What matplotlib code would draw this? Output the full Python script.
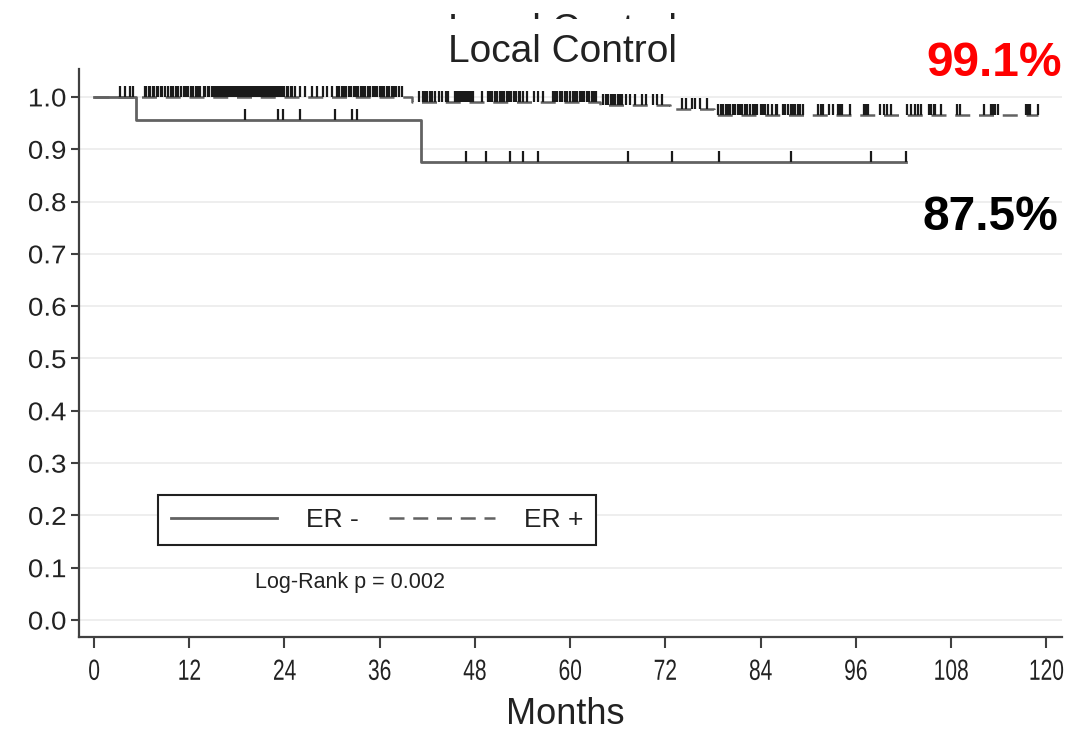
import numpy as np
import matplotlib.pyplot as plt
from matplotlib.lines import Line2D
from matplotlib.transforms import Bbox, TransformedBbox, Affine2D
from matplotlib.patheffects import AbstractPathEffect

plt.rcParams['font.family'] = ['Liberation Sans', 'DejaVu Sans']

# Kaplan-Meier local control by ER status (months)
neg_event_t = [5.3, 41.2]
neg_surv = [0.955, 0.875]
neg_censor = [19.0, 23.2, 23.8, 26.0, 30.4, 32.5, 33.1, 46.9, 49.4, 52.4,
              54.1, 55.9, 67.3, 72.9, 78.8, 87.9, 97.9, 102.3]

pos_event_t = [40.1, 63.8, 72.6, 78.1]
pos_surv = [0.991, 0.984, 0.977, 0.966]
pos_censor = [3.3, 3.9, 4.5, 4.9,
              6.4, 6.6, 6.9, 7.1, 7.4, 7.6, 7.9, 8.1, 8.4, 8.6,
              9.0, 9.3, 9.7, 10.0, 10.3, 10.6, 10.9, 11.3, 11.6, 11.9, 12.2, 12.5,
              12.8, 13.1, 13.4,
              13.8, 14.0, 14.3, 14.5, 14.8, 15.0, 15.3, 15.5, 15.8, 16.0, 16.3, 16.5,
              16.8, 17.0, 17.3, 17.5, 17.8, 18.0, 18.3, 18.5, 18.8, 19.0, 19.3, 19.5,
              19.8, 20.0, 20.3, 20.5, 20.8, 21.0, 21.3, 21.5, 21.8, 22.0, 22.3, 22.5,
              22.8, 23.0, 23.3, 23.5, 23.8, 24.0, 24.3, 24.5, 24.8, 25.0,
              25.3, 26.0, 26.6, 27.5, 28.1, 28.9, 29.4, 30.0,
              30.6, 30.9, 31.2, 31.5, 31.8, 32.1, 32.4, 32.7, 33.0, 33.3, 33.6, 33.9,
              34.2, 34.5, 34.8, 35.1, 35.4, 35.7, 36.0, 36.3, 36.6, 36.9, 37.2, 37.5,
              37.8, 38.1, 38.4, 38.8,
              40.9, 41.4, 41.7, 42.0, 42.3, 42.6, 43.0, 43.5, 43.9, 44.3, 44.6,
              45.5, 45.8, 46.0, 46.3, 46.5, 46.8, 47.0, 47.3, 47.5, 47.8, 48.9, 49.6,
              49.9, 50.2, 50.5, 50.8, 51.1, 51.4, 51.7, 52.0, 52.3, 52.6, 52.9, 53.2,
              53.5, 53.7, 54.1, 54.6, 55.4, 56.0, 56.6,
              57.8, 58.1, 58.4, 58.7, 59.0, 59.3, 59.6, 60.0, 60.3, 60.6, 60.9, 61.2,
              61.5, 61.8, 62.1, 62.4, 62.7, 63.0, 63.2,
              64.2, 64.5, 64.8, 65.1, 65.4, 65.7, 66.0, 66.3, 66.6, 67.0, 67.6, 68.2,
              69.1, 69.5, 70.4, 71.0, 71.6,
              74.1, 74.6, 75.3, 75.8, 76.4, 77.3,
              78.6, 79.0, 79.3, 79.6, 79.9, 80.2, 80.5, 80.8, 81.1, 81.4, 81.7, 82.0,
              82.3, 82.7, 83.0, 83.3, 83.6, 84.0, 84.3, 84.6, 84.9, 85.5, 85.9, 86.1,
              86.8, 87.1, 87.4, 87.8, 88.1, 88.4, 88.7, 89.0, 89.4,
              91.2, 91.6, 91.9, 92.6, 93.1, 93.7, 94.0, 94.3, 95.3, 97.0, 97.3, 97.5,
              99.1, 99.5, 100.0, 100.4, 102.5, 103.0, 103.5, 103.8, 104.2, 105.2,
              105.5, 105.8, 106.0, 106.7, 108.8, 109.2, 112.1, 113.0, 113.3, 113.6,
              113.9, 117.4, 117.7, 118.0, 119.0]

x_ticks = [0, 12, 24, 36, 48, 60, 72, 84, 96, 108, 120]
y_ticks = [0.0, 0.1, 0.2, 0.3, 0.4, 0.5, 0.6, 0.7, 0.8, 0.9, 1.0]

line_col = '#626262'
tick_col = '#1a1a1a'
txt_col = '#222222'


class Stretch(AbstractPathEffect):
    """Scale glyph outlines horizontally about the text's centre or right edge."""

    def __init__(self, sx=1.0, anchor='center'):
        super().__init__()
        self.sx = sx
        self.anchor = anchor

    def draw_path(self, renderer, gc, tpath, affine, rgbFace=None):
        ext = affine.transform_path(tpath).get_extents()
        x0 = ext.x1 if self.anchor == 'right' else (ext.x0 + ext.x1) / 2
        tr = affine + Affine2D().translate(-x0, 0).scale(self.sx, 1).translate(x0, 0)
        renderer.draw_path(gc, tpath, tr, rgbFace)


def km_steps(ev_t, surv, end):
    t = [0.0] + ev_t + [end]
    s = [1.0] + surv + [surv[-1]]
    return t, s


def level_at(times, ev_t, surv):
    idx = np.searchsorted(ev_t, times, side='right')
    return np.array([1.0] + surv)[idx]


fig = plt.figure(figsize=(10.69, 7.32), dpi=100)
ax = fig.add_axes([0.0739, 0.1298, 0.9196, 0.776])

# ER- solid, ER+ dashed
t, s = km_steps(neg_event_t, neg_surv, max(neg_censor))
ax.step(t, s, where='post', color=line_col, lw=2.0)
t, s = km_steps(pos_event_t, pos_surv, max(pos_censor))
ax.step(t, s, where='post', color=line_col, lw=1.8, linestyle=(0, (6, 3.5)))

# censor marks
for cens, ev, sv in [(neg_censor, neg_event_t, neg_surv),
                     (pos_censor, pos_event_t, pos_surv)]:
    lv = level_at(cens, ev, sv)
    ax.vlines(cens, lv, lv + 0.021, color=tick_col, lw=1.6)

ax.set_xlim(-1.9, 122.0)
ax.set_ylim(-0.0325, 1.0535)
ax.set_xticks(x_ticks, labels=[str(v) for v in x_ticks])
ax.set_yticks(y_ticks, labels=[f'{v:.1f}' for v in y_ticks])
ax.yaxis.grid(True, color='#ebebeb', lw=1.2)
ax.set_axisbelow(True)
for side in ['top', 'right']:
    ax.spines[side].set_visible(False)
for side in ['left', 'bottom']:
    ax.spines[side].set_color('#404040')
    ax.spines[side].set_linewidth(1.6)
ax.tick_params(axis='y', length=6, width=1.5, pad=3, labelsize=18.5,
               colors='#404040', labelcolor=txt_col)
ax.tick_params(axis='x', length=8, width=1.5, pad=7, labelsize=21,
               colors='#404040', labelcolor=txt_col)
for lbl in ax.get_xticklabels():
    lbl.set_path_effects([Stretch(0.72)])
for lbl in ax.get_yticklabels():
    lbl.set_path_effects([Stretch(1.08, 'right')])

handles = [Line2D([], [], color=line_col, lw=2.0),
           Line2D([], [], color=line_col, lw=1.8, linestyle=(0, (6, 3.5)))]
leg = ax.legend(handles, ['ER -', 'ER +'], ncol=2, loc='lower left',
                bbox_to_anchor=(0.0804, 0.162, 0.446, 0.093), mode='expand',
                borderaxespad=0, fontsize=19, handlelength=4.0,
                handletextpad=1.1, columnspacing=1.4, borderpad=0.5,
                fancybox=False, framealpha=1, edgecolor='#202020')
leg.get_frame().set_linewidth(1.5)
for txt in leg.get_texts():
    txt.set_color(txt_col)

ax.text(32.3, 0.071, 'Log-Rank p = 0.002', ha='center', va='center',
        fontsize=15.5, color=txt_col)

fig.text(562 / 1069, 1 - 52 / 732, 'Local Control', ha='center', va='center',
         fontsize=28, color=txt_col)
# upper strip of a second title line, cut off at the top edge
ghost = fig.text(562 / 1069, 1 - 31 / 732, 'Local Control', ha='center',
                 va='center', fontsize=28, color=txt_col)
ghost.set_clip_box(TransformedBbox(Bbox([[0, 1 - 19 / 732], [1, 1 - 11 / 732]]),
                                   fig.transFigure))
ghost.set_clip_on(True)

fig.text(565 / 1069, 1 - 715 / 732, 'Months', ha='center', va='center',
         fontsize=26, color=txt_col)

fig.text(1062 / 1069, 1 - 64 / 732, f'{pos_surv[0] * 100:.1f}%', ha='right',
         va='center', fontsize=34.5, fontweight='bold', color='#ff0000')
fig.text(1058 / 1069, 1 - 218 / 732, f'{neg_surv[-1] * 100:.1f}%', ha='right',
         va='center', fontsize=34.5, fontweight='bold', color='black')

fig.savefig('out.png', dpi=100)
